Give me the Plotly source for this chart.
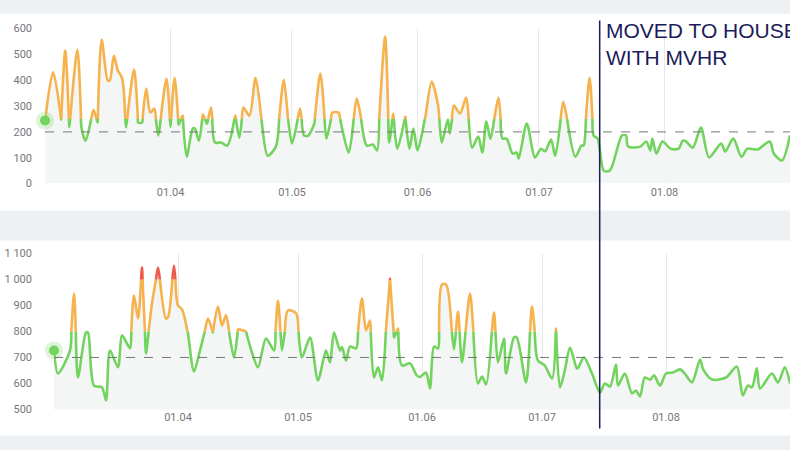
import datetime as dt
import plotly.graph_objects as go

BASE = dt.datetime(2023, 3, 1)

# top panel (days since 01.03, value)
top_days = [0,2,4,5,6,8,9,10,12,13,14,15.5,16,17,18,19,20,22,23,24,25,26,27,28,30,31,32,33,34,35,36.5,37,38,39,40,41,42,43.5,45,47,48,49,50.5,52,53.5,55,57,59,60,61,63,64,65,66.5,68,69.5,71,72.5,75,77,79.5,81,82,84,85,86,87,89,90,91,92,94,95.5,97,98,99.5,100,101,102.5,104,105.5,107,108,109,110,112,113,114,115.5,116.5,117,119,121,122.5,123.5,125,126,128,131,132.5,133,134.5,135.5,136.5,138,139.5,142.5,143.5,144,147,148.5,149.5,150,151,152.5,154.5,156.5,157.5,158.3,160,162,164,167,168,170,172,173.5,176,179,180,182,184]
top_vals = [244,431,248,515,217,518,217,166,286,236,557,399,399,495,437,410,217,441,236,236,368,275,290,186,406,220,410,228,263,104,213,213,166,267,232,294,159,159,147,263,178,294,263,410,244,108,143,402,255,155,290,186,186,232,426,174,275,275,120,329,147,151,128,569,159,271,135,259,135,213,128,263,395,310,159,248,194,302,271,333,139,182,120,240,174,333,174,174,116,120,97,232,101,135,125,170,108,317,104,147,147,410,186,174,50,50,186,186,143,143,163,128,174,116,163,135,135,166,163,139,217,101,155,124,174,104,135,132,163,116,89,186]

# bottom panel
bot_days = [0,1,4,5,6,8,8.5,10,12,13,14,16,17,19,20,21,22,23,24.5,26,28,28.5,30,31,32,33.5,35,36.5,38.5,39.7,41,42,43,45,46,48,49.5,51,53,55,56,57,58.5,60.5,62,64,66,68,69,70,71.5,72,73,74,75.5,77,78,79,80,81,82,84,85,86,87,89,90.7,91.5,93,94,95,96,97,98,100,101,102,104,106,107,108,110,111,112.5,113,115,115.7,118,119.5,121,122.7,124.5,125.5,126.5,127.7,129,130.7,131,132.5,134.5,136.5,137.7,139,140.5,141,142.7,144.5,145.5,146.5,147.7,149,150,151.5,153,154.7,156.5,157.7,159.5,161.5,162.3,164.5,168,170.7,172.2,173.5,174.5,175.7,176.5,179.5,181,182.7,184]
bot_vals = [727,638,727,946,623,796,796,592,585,535,727,662,785,735,938,850,1046,715,908,1046,850,855,1054,900,885,792,646,727,850,796,896,823,862,700,808,800,719,662,773,727,919,727,881,870,700,777,612,727,681,796,727,740,688,742,735,927,804,842,623,662,612,1003,777,811,669,677,631,625,642,581,742,735,981,981,731,877,681,946,600,627,596,873,681,773,638,777,777,604,896,688,669,619,811,585,650,738,658,660,700,638,565,600,588,673,592,638,562,573,550,623,615,631,592,638,642,654,638,604,692,654,615,623,665,554,592,585,658,581,638,604,662,600]

top_ticks = [0, 100, 200, 300, 400, 500, 600]
bot_ticks = [500, 600, 700, 800, 900, 1000, 1100]
month_ticks = ["2023-04-01", "2023-05-01", "2023-06-01", "2023-07-01", "2023-08-01", "2023-09-01"]

GREEN, ORANGE, RED = "#72d35f", "#f6b24c", "#ee5b4a"


def to_date(d):
    return BASE + dt.timedelta(days=d)


def segments(days, vals, thresholds, colors):
    out = {c: ([], []) for c in colors}
    last = {c: None for c in colors}

    def band(v):
        for i, t in enumerate(thresholds):
            if v < t:
                return colors[i]
        return colors[-1]

    for i in range(len(days) - 1):
        x0, y0, x1, y1 = days[i], vals[i], days[i + 1], vals[i + 1]
        cuts = [x0]
        for t in thresholds:
            if (y0 - t) * (y1 - t) < 0:
                cuts.append(x0 + (t - y0) / (y1 - y0) * (x1 - x0))
        cuts.append(x1)
        cuts.sort()
        for a, b in zip(cuts[:-1], cuts[1:]):
            ya = y0 + (y1 - y0) * (a - x0) / (x1 - x0)
            yb = y0 + (y1 - y0) * (b - x0) / (x1 - x0)
            c = band((ya + yb) / 2)
            xs, ys = out[c]
            if last[c] != a:
                if xs:
                    xs.append(None); ys.append(None)
                xs.append(to_date(a)); ys.append(ya)
            xs.append(to_date(b)); ys.append(yb)
            last[c] = b
    return out


fig = go.Figure()

panels = [
    dict(days=top_days, vals=top_vals, xa="x", ya="y", th=[250], cols=[GREEN, ORANGE], ref=200, base=0),
    dict(days=bot_days, vals=bot_vals, xa="x2", ya="y2", th=[800, 1000], cols=[GREEN, ORANGE, RED], ref=700, base=500),
]
for p in panels:
    dates = [to_date(d) for d in p["days"]]
    fig.add_trace(go.Scatter(x=dates, y=p["vals"], mode="lines", line=dict(width=0, shape="spline", smoothing=0.8),
                             fill="tozeroy", fillcolor="#f4f6f6", xaxis=p["xa"], yaxis=p["ya"], hoverinfo="skip"))
    segs = segments(p["days"], p["vals"], p["th"], p["cols"])
    for c in p["cols"]:
        xs, ys = segs[c]
        fig.add_trace(go.Scatter(x=xs, y=ys, mode="lines", line=dict(color=c, width=2.6, shape="spline", smoothing=0.8),
                                 connectgaps=False, xaxis=p["xa"], yaxis=p["ya"], hoverinfo="skip"))
    fig.add_trace(go.Scatter(x=[dates[0]], y=[p["vals"][0]], mode="markers",
                             marker=dict(size=18, color="rgba(114,211,95,0.25)"), xaxis=p["xa"], yaxis=p["ya"],
                             cliponaxis=False))
    fig.add_trace(go.Scatter(x=[dates[0]], y=[p["vals"][0]], mode="markers",
                             marker=dict(size=10, color=GREEN), xaxis=p["xa"], yaxis=p["ya"], cliponaxis=False))
    fig.add_shape(type="line", xref=p["xa"] + " domain", yref=p["ya"], x0=0, x1=1, y0=p["ref"], y1=p["ref"],
                  line=dict(color="#777", width=1, dash="dash"))

H = 450.0


def py(t):
    # target pixel row -> paper fraction (corrected for the observed rendering scale)
    return 1 - ((t - 5.37) / 0.9716) / H


# cards
fig.add_shape(type="rect", xref="paper", yref="paper", x0=0, x1=1.01, y0=py(210), y1=py(13),
              fillcolor="white", line_width=0, layer="below")
fig.add_shape(type="rect", xref="paper", yref="paper", x0=0, x1=1.01, y0=py(435), y1=py(240),
              fillcolor="white", line_width=0, layer="below")
# move marker
fig.add_shape(type="line", xref="x", yref="paper", x0="2023-07-16", x1="2023-07-16", y0=py(428), y1=py(20),
              line=dict(color="#1c1c5a", width=1.5))
fig.add_annotation(xref="x", yref="paper", x="2023-07-17", y=py(16), text="MOVED TO HOUSE<br>WITH MVHR",
                   showarrow=False, xanchor="left", yanchor="top", align="left",
                   font=dict(family="Liberation Sans", size=21, color="#1c1c5a"))

xcommon = dict(type="date", range=["2023-03-01", "2023-09-01"], tickvals=month_ticks, tickformat="%d.%m",
               showgrid=True, gridcolor="#e8e8e8", zeroline=False, showline=False, ticks="",
               tickfont=dict(size=11, color="#777"))
ycommon = dict(showgrid=False, zeroline=False, showline=False, ticks="", tickformat=",d",
               ticklabelstandoff=12, tickfont=dict(size=11, color="#777"))

fig.update_layout(
    width=790, height=450, margin=dict(l=0, r=0, t=0, b=0),
    paper_bgcolor="#eef1f3", plot_bgcolor="rgba(0,0,0,0)", showlegend=False,
    separators=". ", font=dict(family="Roboto"),
    xaxis=dict(domain=[45 / 790, 1], anchor="y", **xcommon),
    yaxis=dict(domain=[py(183), py(28)], range=[0, 600], tickvals=top_ticks, **ycommon),
    xaxis2=dict(domain=[54 / 790, 1], anchor="y2", **xcommon),
    yaxis2=dict(domain=[py(409), py(253)], range=[500, 1100], tickvals=bot_ticks, **ycommon),
)
fig.write_html("out.html", config={"displayModeBar": False},
               post_script="document.body.style.margin='0';document.body.style.overflow='hidden';")
